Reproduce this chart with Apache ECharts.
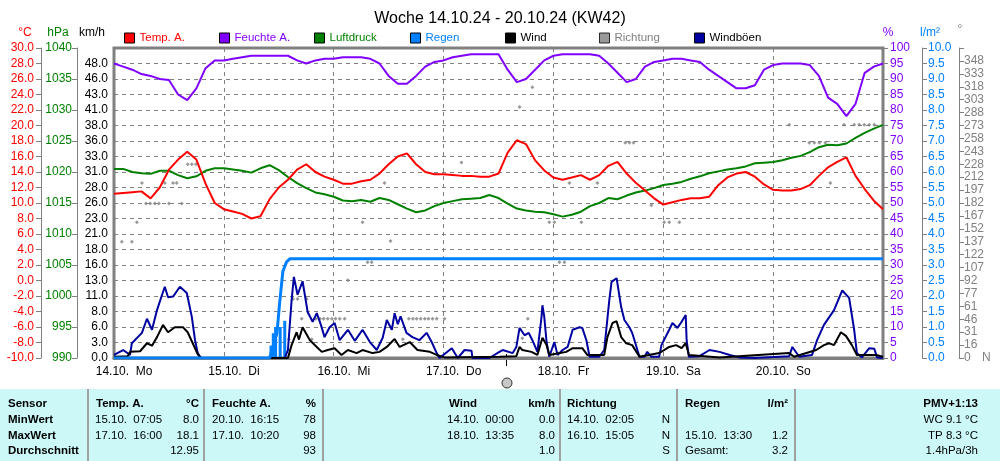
<!DOCTYPE html>
<html><head><meta charset="utf-8">
<script src="https://cdn.jsdelivr.net/npm/echarts@6/dist/echarts.min.js"></script>
<style>html,body{margin:0;padding:0;background:#fff}#c{width:1000px;height:461px}</style>
</head><body><div id="c"></div>
<script>
const FONT = "'Liberation Sans', Arial, sans-serif";
const dayLabels = ['14.10.  Mo','15.10.  Di','16.10.  Mi','17.10.  Do','18.10.  Fr','19.10.  Sa','20.10.  So'];
const kmhLabels = ['0.0','3.0','6.0','8.0','11.0','13.0','16.0','18.0','21.0','23.0','26.0','28.0','31.0','33.0','36.0','38.0','41.0','43.0','46.0','48.0',''];
const dirLabels = ['0','16','31','46','61','77','92','107','122','137','152','167','182','197','212','228','243','258','273','288','303','318','333','348',''];

// 2-hourly values, 14.10. 00:00 .. 21.10. 00:00
const tempC = [11.2,11.3,11.4,11.5,10.6,12.0,14.3,15.6,16.6,15.6,12.5,10.0,
 9.2,8.9,8.6,8.0,8.3,10.5,12.0,13.0,14.3,15.0,14.0,13.4,
 13.0,12.5,12.5,12.8,13.0,13.8,15.0,16.0,16.4,15.0,14.0,13.7,
 13.7,13.6,13.5,13.5,13.4,13.4,13.8,16.5,18.1,17.6,15.5,14.2,
 13.3,13.0,13.3,13.6,13.0,13.6,14.8,15.3,13.8,12.6,11.6,10.6,
 9.8,10.1,10.4,10.6,10.6,10.8,12.3,13.3,13.8,14.0,13.4,12.4,
 11.7,11.6,11.6,11.8,12.3,13.5,14.6,15.3,15.9,13.5,11.8,10.3,9.2];
const humidity = [95,94,93,91.6,91,90,89.7,85,83.2,87,93.5,96,
 96,96.5,97,97.5,97.5,97.5,97.5,97.5,96,95,96,96.5,
 96.5,97,97,97,96.5,95,91,88.5,88.5,91,94,95.5,
 96,97,97.5,98,98,98,98,93,89,90,93,96,
 97.5,98,98,98,98,97.5,95,92,89,90,94,95.5,
 96,96.5,96.5,96,95.5,93,91,89,87,87,88,93,
 94.5,95,95,95,94.5,91,84,82,78,82,92,94,95];
const pressure = [1020.5,1020.5,1020.0,1019.8,1019.7,1020.2,1020.2,1019.5,1019.0,1019.3,1020.2,1020.6,
 1020.6,1020.4,1020.2,1019.9,1020.6,1021.1,1020.3,1019.2,1018.2,1017.4,1016.7,1016.4,
 1016.0,1015.4,1015.3,1015.5,1015.2,1015.8,1015.5,1014.8,1014.1,1013.5,1013.8,1014.5,
 1015.0,1015.3,1015.6,1015.7,1015.8,1016.3,1015.8,1014.9,1014.1,1013.8,1013.6,1013.5,
 1013.2,1012.8,1013.1,1013.6,1014.5,1015.0,1015.8,1015.6,1016.2,1016.7,1017.0,1017.4,
 1017.9,1018.1,1018.4,1018.9,1019.3,1019.8,1020.1,1020.4,1020.6,1020.9,1021.4,1021.5,
 1021.6,1021.9,1022.3,1022.6,1023.2,1024.0,1024.4,1024.3,1024.6,1025.5,1026.3,1027.0,1027.6];

// [hour since 14.10. 00:00, value]
const gust = [[0,0.5],[0.2,0.5],[2.0,1.3],[3.5,0.5],[3.9,2.4],[6.1,4.1],[7.2,6.4],[8.3,4.6],[9.4,7.8],[10.5,10.3],[11.1,11.6],[11.8,9.9],[12.9,10.0],[14.4,11.6],[15.9,10.6],[16.1,9.9],[17.0,6.7],[17.7,2.9],[18.3,0.8],[19.0,0],
[37.3,0],[38.0,1.3],[38.8,9.4],[39.3,13.2],[40.1,10.3],[41.2,12.5],[42.3,7.5],[43.4,5.9],[44.3,7.3],[45.2,5.4],[46.0,3.4],[47.1,5.0],[48.2,5.7],[49.3,2.9],[51.1,4.6],[52.6,2.8],[54.3,4.6],[55.9,2.6],[57.4,1.3],[58.7,3.3],[59.6,6.2],[60.7,4.6],[61.3,7.3],[62.0,5.5],[62.6,6.8],[63.9,4.1],[65.2,3.4],[66.7,2.9],[68.3,4.1],[69.4,2.6],[70.5,0.8],[71.1,0],
[73.8,1.6],[75.1,0],[76.6,1.3],[78.1,1.2],[78.3,0],[82.0,0],[84.2,1.0],[84.9,1.3],[87.1,0.8],[87.9,1.8],[88.6,4.9],[89.7,3.7],[90.6,4.1],[91.4,2.9],[92.5,1.0],[93.4,6.7],[93.6,8.6],[94.0,6.7],[94.5,2.6],[95.1,0.2],[96.2,2.6],[96.9,0.5],[98.0,1.3],[99.1,1.8],[100.2,4.6],[101.7,5.0],[102.3,4.9],[103.2,2.9],[103.9,0.2],[106.0,0.2],[107.1,1.3],[108.2,9.4],[108.7,12.4],[109.8,13.0],[110.0,12.8],[110.8,8.3],[111.5,6.2],[112.6,5.0],[113.2,4.1],[114.8,0.2],[115.9,0.2],[116.5,1.0],[117.4,0.2],[119.1,0.2],[119.6,2.1],[121.3,4.6],[122.0,5.7],[123.1,4.9],[124.0,5.9],[124.9,7.0],[125.1,2.9],[125.6,0.2],
[127.9,0.3],[130.1,1.3],[132.3,1.0],[134.5,0.5],[136.6,0.1],[140,0],[147.5,0.3],[148.2,1.8],[149.7,0.2],[152.5,0.5],[153.6,2.9],[155.1,5.4],[157.3,7.8],[159.1,11.0],[160.6,9.8],[161.7,4.6],[162.3,0.8],[163.4,0.1],[165.0,1.6],[166.1,1.5],[166.7,0.1],[168,0]];
const wind = [[0,0.2],[3.0,0.3],[3.5,1.0],[5.7,1.1],[7.2,2.4],[8.3,2.0],[9.4,3.4],[10.7,5.4],[11.8,4.2],[13.3,5.0],[15.1,5.0],[16.1,4.2],[17.2,2.4],[18.3,0.6],[19.0,0],
[38.0,0],[38.8,2.1],[39.9,4.2],[40.4,3.0],[41.2,5.0],[42.8,2.9],[44.3,1.8],[45.4,1.0],[46.7,1.3],[48.2,1.6],[49.7,0.5],[51.1,1.3],[53.0,0.8],[54.3,1.3],[56.5,0.8],[58.0,1.0],[59.6,1.8],[61.3,3.1],[62.4,1.8],[64.6,2.6],[66.3,1.3],[69.0,1.0],[70.5,0.5],[72.2,0.1],
[84.2,0.2],[87.9,0.3],[88.6,1.8],[89.2,1.3],[91.2,1.0],[92.5,0.5],[93.6,3.3],[94.5,2.1],[95.1,0.5],[98.8,1.0],[100.2,1.6],[102.3,1.6],[103.4,0.5],[107.1,0.5],[107.8,3.4],[108.9,5.7],[109.8,6.0],[110.8,3.4],[111.9,2.4],[113.2,2.1],[114.8,0.2],[119.1,0.8],[121.3,1.8],[122.8,2.1],[124.0,1.6],[124.9,2.4],[125.6,0.5],
[132.3,0.1],[147.5,0.8],[148.6,0.2],[153.4,1.3],[155.1,2.1],[156.2,2.4],[157.3,2.1],[158.8,4.2],[159.9,3.6],[161.2,2.1],[162.3,0.5],[164.3,0.5],[166.5,0.5],[168,0.2]];
const direction = [[1.7,136],[3.9,136],[5.0,159],[6.1,205],[7.0,181],[7.9,181],[8.9,181],[9.8,181],[11.1,205],[12.0,181],[12.9,205],[13.7,205],[14.8,181],[16.1,227],[17.0,227],[17.9,227],
[38.2,22],[39.1,69],[40.1,69],[41.0,46],[42.1,69],[43.2,22],[44.1,46],[45.0,46],[45.8,46],[46.7,46],[47.6,46],[48.4,46],[49.3,46],[50.4,46],[51.1,91],[54.3,159],[55.4,112],[56.3,112],[59.1,205],[60.4,137],[63.1,22],[64.4,46],[65.3,46],[66.1,46],[67.0,46],[67.9,46],[68.7,46],[69.6,46],[70.5,46],[72.2,46],
[75.9,229],[88.6,294],[89.2,23],[90.4,46],[91.4,317],[95.1,159],[96.2,159],[97.3,112],[98.4,112],[99.5,205],[102.1,159],[105.6,205],[111.7,252],[112.6,252],[113.5,252],[117.4,179],[120.2,159],[121.3,159],[123.5,159],
[147.5,273],[151.9,252],[153.0,252],[154.1,252],[155.4,252],[156.5,205],[159.5,273],[161.7,273],[162.8,273],[163.9,273],[165.0,273],[166.1,273]];
const rainSum = [[0,0],[34.0,0],[35.6,0.8],[36.2,1.8],[36.9,2.8],[37.7,3.1],[38.4,3.2],[168,3.2]];
const rainBars = [[34.3,0.4],[34.8,0.8],[35.3,1.0],[36.3,1.0],[37.3,1.2]];

const legendNames = ['Temp. A.','Feuchte A.','Luftdruck','Regen','Wind','Richtung','Windböen'];
const legendText = ['#ff0000','#8000ff','#008000','#0080ff','#000000','#808080','#000000'];
const legendX = [124,219,314,410,505,599,694];

const tableRowY = [404,420,436,451];
const tableCells = [
 ['Sensor',8,0,'left',1],['MinWert',8,1,'left',1],['MaxWert',8,2,'left',1],['Durchschnitt',8,3,'left',1],
 ['Temp. A.',96,0,'left',1],['°C',199,0,'right',1],['15.10.  07:05',95,1,'left',0],['8.0',199,1,'right',0],['17.10.  16:00',95,2,'left',0],['18.1',199,2,'right',0],['12.95',199,3,'right',0],
 ['Feuchte A.',212,0,'left',1],['%',316,0,'right',1],['20.10.  16:15',212,1,'left',0],['78',316,1,'right',0],['17.10.  10:20',212,2,'left',0],['98',316,2,'right',0],['93',316,3,'right',0],
 ['Wind',449,0,'left',1],['km/h',555,0,'right',1],['14.10.  00:00',447,1,'left',0],['0.0',555,1,'right',0],['18.10.  13:35',447,2,'left',0],['8.0',555,2,'right',0],['1.0',555,3,'right',0],
 ['Richtung',567,0,'left',1],['14.10.  02:05',567,1,'left',0],['N',670,1,'right',0],['16.10.  15:05',567,2,'left',0],['N',670,2,'right',0],['S',670,3,'right',0],
 ['Regen',685,0,'left',1],['l/m²',788,0,'right',1],['15.10.  13:30',685,2,'left',0],['1.2',788,2,'right',0],['Gesamt:',685,3,'left',0],['3.2',788,3,'right',0],
 ['PMV+1:13',978,0,'right',1],['WC 9.1 °C',978,1,'right',0],['TP 8.3 °C',978,2,'right',0],['1.4hPa/3h',978,3,'right',0]
];
const tableSep = [88,204,323,560,677,795];

const idx2 = (arr) => arr.map((v, i) => [i * 2, v]);

function yAx(o) {
  return Object.assign({
    type: 'value', position: 'left', offset: 0,
    axisLine: {show: true, onZero: false, lineStyle: {color: '#808080', width: 1}},
    axisTick: {show: true, inside: false, length: 5, lineStyle: {color: '#808080'}},
    splitLine: {show: false},
    axisLabel: {fontSize: 12, fontFamily: FONT, margin: 7}
  }, o);
}

const graphic = [];
const txt = (text, x, y, color, align, font) => graphic.push({type: 'text', x: x, y: y, silent: true,
  style: {text: text, fill: color, font: font || ('12px ' + FONT), textAlign: align || 'center', textVerticalAlign: 'middle'}});
txt('°C', 25, 33, '#ff0000');
txt('hPa', 58, 33, '#008000');
txt('km/h', 92, 33, '#000000');
txt('%', 888, 33, '#8000ff');
txt('l/m²', 930, 33, '#0080ff');
txt('°', 960, 30, '#808080');
txt('N', 982, 358, '#808080', 'left');
graphic.push({type: 'line', silent: true, shape: {x1: 506.5, y1: 354, x2: 506.5, y2: 366}, style: {stroke: '#000', lineWidth: 1}});
graphic.push({type: 'circle', silent: true, shape: {cx: 507, cy: 383, r: 5}, style: {fill: '#c8c8c8', stroke: '#333', lineWidth: 1}});
graphic.push({type: 'rect', silent: true, z: -10, shape: {x: 0, y: 389, width: 1000, height: 72}, style: {fill: '#ccf8f8'}});
tableSep.forEach(x => graphic.push({type: 'line', silent: true, shape: {x1: x, y1: 389, x2: x, y2: 461}, style: {stroke: '#a0a0a0', lineWidth: 2}}));
tableCells.forEach(c => txt(c[0], c[1], tableRowY[c[2]], '#000', c[3], (c[4] ? 'bold 11.5px ' : '11.5px ') + FONT));

const option = {
  animation: false,
  backgroundColor: '#ffffff',
  textStyle: {fontFamily: FONT},
  title: {text: 'Woche 14.10.24 - 20.10.24 (KW42)', left: 'center', top: 6,
    textStyle: {fontSize: 16, fontWeight: 'normal', color: '#000', fontFamily: FONT}},
  legend: legendNames.map((n, i) => ({
    data: [n], left: legendX[i], top: 32, padding: 0, itemWidth: 10, itemHeight: 10, icon: 'rect',
    selectedMode: false, itemGap: 0,
    itemStyle: {borderColor: '#000', borderWidth: 1},
    textStyle: {color: legendText[i], fontSize: 11.5, fontFamily: FONT}
  })),
  grid: {left: 114, right: 117, top: 48, bottom: 103, show: true, borderColor: '#808080', borderWidth: 3, backgroundColor: 'transparent'},
  xAxis: {
    type: 'value', min: 0, max: 168, interval: 24,
    axisLine: {show: true, onZero: false, lineStyle: {color: '#808080', width: 3}},
    axisTick: {show: false},
    splitLine: {show: true, lineStyle: {color: '#808080', type: [4, 4], width: 1}},
    axisLabel: {
      customValues: dayLabels.map((_, i) => i * 24 + 2.2),
      formatter: v => dayLabels[Math.round((v - 2.2) / 24)] || '',
      fontSize: 12, fontFamily: FONT, color: '#000', margin: 8
    }
  },
  yAxis: [
    yAx({min: -10, max: 30, interval: 2, offset: 73, axisLabel: {fontSize: 12, fontFamily: FONT, color: '#ff0000', margin: 7, formatter: v => v.toFixed(1)}}),
    yAx({min: 990, max: 1040, interval: 5, offset: 37, axisLabel: {fontSize: 12, fontFamily: FONT, color: '#008000', margin: 5, formatter: v => String(Math.round(v))}}),
    yAx({min: 0, max: 50.5, interval: 2.525, offset: 0, axisLine: {show: false}, axisTick: {show: false},
      axisLabel: {fontSize: 12, fontFamily: FONT, color: '#000', margin: 6, formatter: v => kmhLabels[Math.round(v / 2.525)] || ''}}),
    yAx({position: 'right', min: 0, max: 100, interval: 5, offset: 0,
      axisLine: {show: false},
      splitLine: {show: true, lineStyle: {color: '#808080', type: [4, 4], width: 1}},
      axisLabel: {fontSize: 12, fontFamily: FONT, color: '#8000ff', margin: 7}}),
    yAx({position: 'right', min: 0, max: 10, interval: 0.5, offset: 39,
      axisLabel: {fontSize: 12, fontFamily: FONT, color: '#0080ff', margin: 6, formatter: v => v.toFixed(1)}}),
    yAx({position: 'right', min: 0, max: 363, interval: 15.125, offset: 76,
      axisLabel: {fontSize: 12, fontFamily: FONT, color: '#808080', margin: 5, formatter: v => dirLabels[Math.round(v / 15.125)] || ''}})
  ],
  series: [
    {name: 'Regen', type: 'bar', yAxisIndex: 4, data: rainBars, barWidth: 3, itemStyle: {color: '#0080ff'}, z: 1},
    {name: 'Richtung', type: 'scatter', yAxisIndex: 5, data: direction, symbol: 'diamond', symbolSize: 4, itemStyle: {color: '#808080'}, z: 2},
    {name: 'Luftdruck', type: 'line', yAxisIndex: 1, data: idx2(pressure), showSymbol: false, lineStyle: {color: '#008000', width: 2}, itemStyle: {color: '#008000'}, z: 3},
    {name: 'Temp. A.', type: 'line', yAxisIndex: 0, data: idx2(tempC), showSymbol: false, lineStyle: {color: '#ff0000', width: 2}, itemStyle: {color: '#ff0000'}, z: 4},
    {name: 'Feuchte A.', type: 'line', yAxisIndex: 3, data: idx2(humidity), showSymbol: false, lineStyle: {color: '#8000ff', width: 2}, itemStyle: {color: '#8000ff'}, z: 4},
    {name: 'Windböen', type: 'line', yAxisIndex: 2, data: gust, showSymbol: false, lineStyle: {color: '#0000a0', width: 2}, itemStyle: {color: '#0000a0'}, z: 5},
    {name: 'Wind', type: 'line', yAxisIndex: 2, data: wind, showSymbol: false, lineStyle: {color: '#000000', width: 2}, itemStyle: {color: '#000000'}, z: 6},
    {name: 'Regen', type: 'line', yAxisIndex: 4, data: rainSum, showSymbol: false, lineStyle: {color: '#0080ff', width: 3}, itemStyle: {color: '#0080ff'}, z: 7}
  ],
  graphic: graphic
};
const chart = echarts.init(document.getElementById('c'), null, {renderer: 'canvas'});
chart.setOption(option);
</script></body></html>
